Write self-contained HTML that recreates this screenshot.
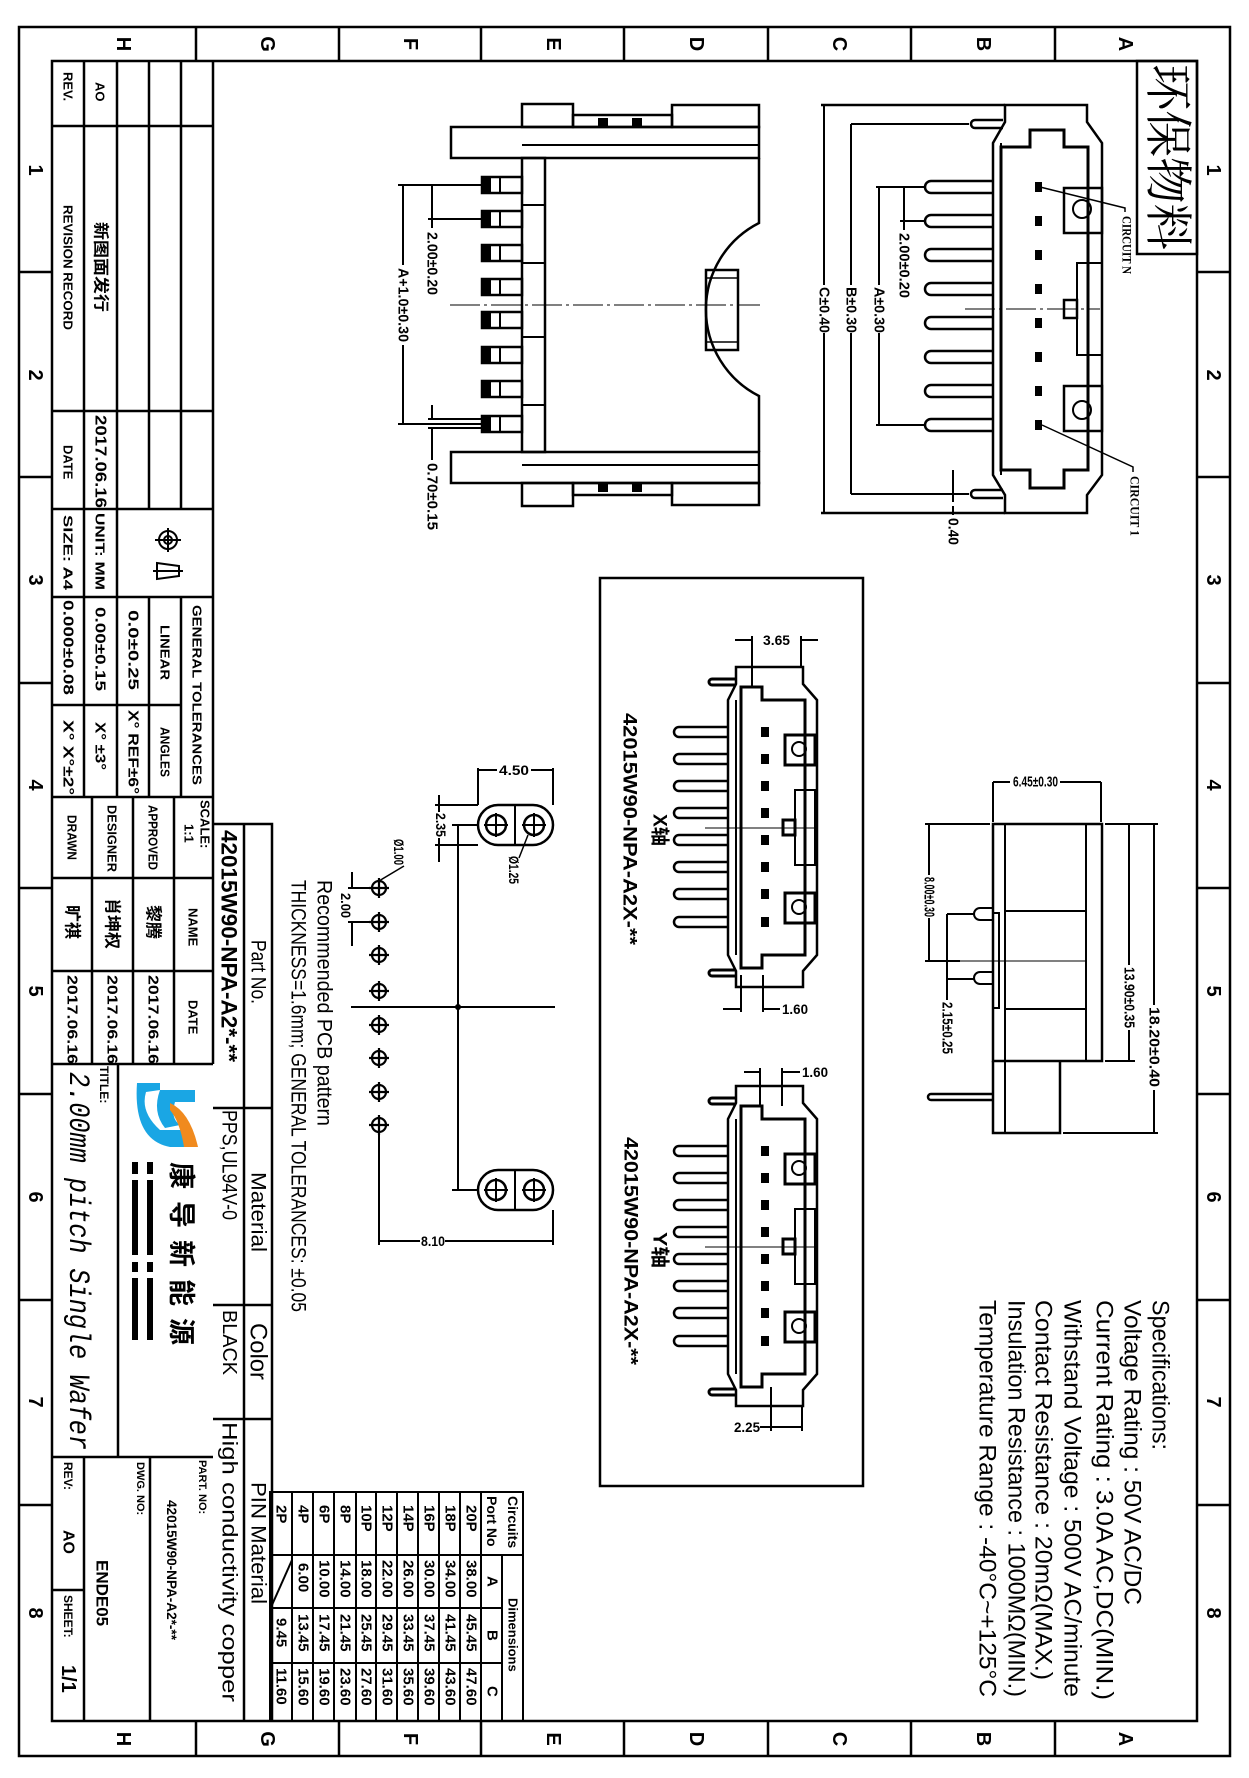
<!DOCTYPE html>
<html><head><meta charset="utf-8"><style>
html,body{margin:0;padding:0;background:#fff;}
svg{display:block;}
text{font-family:"Liberation Sans","Noto Sans CJK SC",sans-serif;fill:#000;}
.sf{font-family:"Liberation Serif","Noto Serif CJK SC",serif;}
.mo{font-family:"Liberation Mono","Noto Sans CJK SC",monospace;}
</style></head><body>
<svg width="1249" height="1778" viewBox="0 0 1249 1778" xmlns="http://www.w3.org/2000/svg">
<defs>
<g id="lp"><rect x="482" y="-8" width="40" height="16" fill="none" stroke="#000" stroke-width="2.5"/><rect x="482" y="-8" width="9" height="16" fill="#000"/><line x1="500" y1="-8" x2="500" y2="8" stroke="#000" stroke-width="2"/></g>
<g id="rp"><path d="M993,-6 H931 A6 6 0 0 0 931,6 H993" fill="none" stroke="#000" stroke-width="2.5"/><rect x="1035" y="-5" width="7" height="10" fill="#000"/></g>
<g id="xp"><path d="M728,-5 H679 A5 5 0 0 0 679,5 H728" fill="none" stroke="#000" stroke-width="2.5"/><rect x="762" y="-4" width="6" height="8" fill="#000"/></g>
<g id="conn" fill="none" stroke="#000" stroke-width="2">
<polygon points="736,667 803,667 803,684 817,700 817,955 803,971 803,987 736,987 736,971 728,955 728,700 736,684" stroke-width="2.5"/>
<polygon points="741,687 762,687 762,700 805,700 805,955 762,955 762,968 741,968" stroke-width="3"/>
<line x1="736" y1="700" x2="736" y2="955"/>
<rect x="785" y="735" width="30" height="30" stroke-width="3"/><circle cx="799" cy="749" r="7"/>
<rect x="785" y="893" width="30" height="30" stroke-width="3"/><circle cx="799" cy="907" r="7"/>
<rect x="795" y="790" width="20" height="75"/><rect x="783" y="820" width="12" height="15" stroke-width="3"/>
<path d="M736,679 H712 A3 3 0 0 0 712,685 H736 M736,970 H712 A3 3 0 0 0 712,976 H736" stroke-width="3"/>
<line x1="705" y1="828" x2="815" y2="828" stroke-width="1"/>
<use href="#xp" y="732"/><use href="#xp" y="759"/><use href="#xp" y="786"/><use href="#xp" y="813"/>
<use href="#xp" y="840"/><use href="#xp" y="867"/><use href="#xp" y="894"/><use href="#xp" y="922"/>
</g>
</defs>

<g fill="none" stroke="#000" stroke-width="2.5">
<rect x="19" y="27" width="1211" height="1729"/>
<rect x="52" y="61" width="1145" height="1660"/>
<path d="M196,27V61M339,27V61M481,27V61M624,27V61M768,27V61M911,27V61M1055,27V61"/>
<path d="M196,1721V1756M339,1721V1756M481,1721V1756M624,1721V1756M768,1721V1756M911,1721V1756M1055,1721V1756"/>
<path d="M19,272H52M19,477H52M19,683H52M19,888H52M19,1094H52M19,1300H52M19,1505H52"/>
<path d="M1197,272H1230M1197,477H1230M1197,683H1230M1197,888H1230M1197,1094H1230M1197,1300H1230M1197,1505H1230"/>
</g>
<g font-size="20" font-weight="bold" text-anchor="middle" dominant-baseline="central">
<text transform="translate(123,44) rotate(90)">H</text><text transform="translate(267,44) rotate(90)">G</text>
<text transform="translate(410,44) rotate(90)">F</text><text transform="translate(553,44) rotate(90)">E</text>
<text transform="translate(696,44) rotate(90)">D</text><text transform="translate(839,44) rotate(90)">C</text>
<text transform="translate(983,44) rotate(90)">B</text><text transform="translate(1125,44) rotate(90)">A</text>
<text transform="translate(123,1739) rotate(90)">H</text><text transform="translate(267,1739) rotate(90)">G</text>
<text transform="translate(410,1739) rotate(90)">F</text><text transform="translate(553,1739) rotate(90)">E</text>
<text transform="translate(696,1739) rotate(90)">D</text><text transform="translate(839,1739) rotate(90)">C</text>
<text transform="translate(983,1739) rotate(90)">B</text><text transform="translate(1125,1739) rotate(90)">A</text>
<text transform="translate(35,170) rotate(90)">1</text><text transform="translate(35,375) rotate(90)">2</text>
<text transform="translate(35,580) rotate(90)">3</text><text transform="translate(35,785) rotate(90)">4</text>
<text transform="translate(35,991) rotate(90)">5</text><text transform="translate(35,1197) rotate(90)">6</text>
<text transform="translate(35,1402) rotate(90)">7</text><text transform="translate(35,1613) rotate(90)">8</text>
<text transform="translate(1213,170) rotate(90)">1</text><text transform="translate(1213,375) rotate(90)">2</text>
<text transform="translate(1213,580) rotate(90)">3</text><text transform="translate(1213,785) rotate(90)">4</text>
<text transform="translate(1213,991) rotate(90)">5</text><text transform="translate(1213,1197) rotate(90)">6</text>
<text transform="translate(1213,1402) rotate(90)">7</text><text transform="translate(1213,1613) rotate(90)">8</text>
</g>

<g fill="none" stroke="#000" stroke-width="2.5">
<path d="M84,61V797M117,61V797M149,61V509M181,61V509M149,597V797M181,597V797M213,61V1064"/>
<path d="M52,126H213M52,411H213M52,509H213M52,597H213M52,797H213M52,705H181M52,1064H213"/>
<path d="M92,797V1064M133,797V1064M174,797V1064M52,878H213M52,971H213"/>
<path d="M213,824H272V1721M244,824V1721M213,1108H272M213,1305H272M213,1419H272"/>
<path d="M118,1064V1457M52,1457H213M84,1457V1721M150,1457V1721M52,1590H84"/>
</g>
<g fill="none" stroke="#000" stroke-width="2">
<circle cx="168" cy="540" r="9"/><circle cx="168" cy="540" r="4"/><path d="M155,540H181M168,528V552"/>
<path d="M157,563 L179,566 L179,576 L157,579 Z M153,571H183"/>
</g>
<g class="sf" font-size="13" font-weight="bold" dominant-baseline="central">
<text transform="translate(68,72) rotate(90)">REV.</text>
<text transform="translate(100,82) rotate(90)">AO</text>
<text transform="translate(68,205) rotate(90)" textLength="125" lengthAdjust="spacingAndGlyphs">REVISION RECORD</text>
<text transform="translate(100,222) rotate(90)" font-size="16" textLength="90" lengthAdjust="spacingAndGlyphs">新图面发行</text>
<text transform="translate(68,445) rotate(90)">DATE</text>
<text transform="translate(100,415) rotate(90)" font-size="16" textLength="93" lengthAdjust="spacingAndGlyphs">2017.06.16</text>
<text transform="translate(68,515) rotate(90)" textLength="75" lengthAdjust="spacingAndGlyphs">SIZE: A4</text>
<text transform="translate(100,513) rotate(90)" textLength="77" lengthAdjust="spacingAndGlyphs">UNIT: MM</text>
<text transform="translate(197,605) rotate(90)" textLength="180" lengthAdjust="spacingAndGlyphs">GENERAL TOLERANCES</text>
<text transform="translate(165,625) rotate(90)" textLength="55" lengthAdjust="spacingAndGlyphs">LINEAR</text>
<text transform="translate(165,727) rotate(90)" textLength="50" lengthAdjust="spacingAndGlyphs">ANGLES</text>
<text transform="translate(133,610) rotate(90)" font-size="15" textLength="80" lengthAdjust="spacingAndGlyphs">0.0±0.25</text>
<text transform="translate(133,710) rotate(90)" font-size="15" textLength="84" lengthAdjust="spacingAndGlyphs">X° REF±6°</text>
<text transform="translate(100,607) rotate(90)" font-size="15" textLength="84" lengthAdjust="spacingAndGlyphs">0.00±0.15</text>
<text transform="translate(100,722) rotate(90)" font-size="15" textLength="48" lengthAdjust="spacingAndGlyphs">X° ±3°</text>
<text transform="translate(68,600) rotate(90)" font-size="15" textLength="95" lengthAdjust="spacingAndGlyphs">0.000±0.08</text>
<text transform="translate(68,720) rotate(90)" font-size="15" textLength="75" lengthAdjust="spacingAndGlyphs">X° X°±2°</text>
<text transform="translate(205,800) rotate(90)">SCALE:</text>
<text transform="translate(189,824) rotate(90)">1:1</text>
<text transform="translate(153,805) rotate(90)" textLength="65" lengthAdjust="spacingAndGlyphs">APPROVED</text>
<text transform="translate(112,805) rotate(90)" textLength="67" lengthAdjust="spacingAndGlyphs">DESIGNER</text>
<text transform="translate(72,815) rotate(90)" textLength="45" lengthAdjust="spacingAndGlyphs">DRAWN</text>
<text transform="translate(193,908) rotate(90)">NAME</text>
<text transform="translate(153,905) rotate(90)" font-size="17">黎腾</text>
<text transform="translate(112,898) rotate(90)" font-size="17">肖坤权</text>
<text transform="translate(72,905) rotate(90)" font-size="17">旷祺</text>
<text transform="translate(193,1000) rotate(90)">DATE</text>
<text transform="translate(153,975) rotate(90)" font-size="15" textLength="89" lengthAdjust="spacingAndGlyphs">2017.06.16</text>
<text transform="translate(112,975) rotate(90)" font-size="15" textLength="89" lengthAdjust="spacingAndGlyphs">2017.06.16</text>
<text transform="translate(72,975) rotate(90)" font-size="15" textLength="89" lengthAdjust="spacingAndGlyphs">2017.06.16</text>
<text transform="translate(104,1066) rotate(90)" font-size="12">TITLE:</text>
<text transform="translate(202,1460) rotate(90)" font-size="11">PART. NO:</text>
<text transform="translate(172,1500) rotate(90)" font-size="14" textLength="140" lengthAdjust="spacingAndGlyphs">42015W90-NPA-A2*-**</text>
<text transform="translate(140,1462) rotate(90)" font-size="11">DWG. NO:</text>
<text transform="translate(102,1560) rotate(90)" font-size="17">ENDE05</text>
<text transform="translate(68,1462) rotate(90)" font-size="12">REV:</text>
<text transform="translate(68,1530) rotate(90)" font-size="16">AO</text>
<text transform="translate(68,1595) rotate(90)" font-size="12">SHEET:</text>
<text transform="translate(68,1665) rotate(90)" font-size="20">1/1</text>
</g>
<text class="mo" transform="translate(77,1072) rotate(90)" font-size="30" font-style="italic" dominant-baseline="central" textLength="378" lengthAdjust="spacingAndGlyphs">2.00mm pitch Single Wafer</text>
<path d="M137,1083 L160,1083 L160,1090 L146,1092 Q140,1112 160,1130 L190,1130 L193,1147 L170,1147 Q133,1140 137,1083 Z" fill="#1aa6e4"/>
<path d="M160,1090 L195,1090 L195,1102 L175,1102 Q170,1118 180,1125 L165,1128 Q152,1112 160,1090 Z" fill="#1aa6e4"/>
<path d="M170,1103 Q190,1112 198,1147 L184,1147 Q180,1122 170,1110 Z" fill="#f08a1e"/>
<text transform="translate(181,1162) rotate(90)" font-size="27" font-weight="bold" dominant-baseline="central" textLength="183" lengthAdjust="spacing">康导新能源</text>
<g fill="#000">
<rect x="147" y="1162" width="6" height="12"/><rect x="147" y="1180" width="6" height="75"/><rect x="147" y="1262" width="6" height="10"/><rect x="147" y="1278" width="6" height="62"/>
<rect x="132" y="1162" width="6" height="12"/><rect x="132" y="1180" width="6" height="75"/><rect x="132" y="1262" width="6" height="10"/><rect x="132" y="1278" width="6" height="62"/>
</g>

<g dominant-baseline="central">
<text transform="translate(258,940) rotate(90)" font-size="21" textLength="64" lengthAdjust="spacingAndGlyphs">Part No.</text>
<text transform="translate(229,830) rotate(90)" font-size="22" font-weight="bold" textLength="232" lengthAdjust="spacingAndGlyphs">42015W90-NPA-A2*-**</text>
<text transform="translate(258,1172) rotate(90)" font-size="21" textLength="80" lengthAdjust="spacingAndGlyphs">Material</text>
<text transform="translate(229,1110) rotate(90)" font-size="21" textLength="110" lengthAdjust="spacingAndGlyphs">PPS,UL94V-0</text>
<text transform="translate(258,1323) rotate(90)" font-size="24" textLength="57" lengthAdjust="spacingAndGlyphs">Color</text>
<text transform="translate(229,1310) rotate(90)" font-size="20" textLength="65" lengthAdjust="spacingAndGlyphs">BLACK</text>
<text transform="translate(258,1482) rotate(90)" font-size="21" textLength="122" lengthAdjust="spacingAndGlyphs">PIN Material</text>
<text transform="translate(229,1422) rotate(90)" font-size="21" textLength="280" lengthAdjust="spacingAndGlyphs">High conductivity copper</text>
</g>

<g fill="none" stroke="#000" stroke-width="2">
<rect x="270" y="1492" width="253" height="229"/>
<path d="M292,1492V1721M313,1492V1721M334,1492V1721M356,1492V1721M376,1492V1721M397,1492V1721M418,1492V1721M439,1492V1721M460,1492V1721M481,1492V1721M502,1555V1721"/>
<path d="M270,1555H523M270,1608H502M270,1663H502"/>
<line x1="272" y1="1605" x2="292" y2="1560"/>
</g>
<g font-size="15" font-weight="bold" dominant-baseline="central">
<text transform="translate(513,1496) rotate(90)" font-size="14">Circuits</text>
<text transform="translate(492,1496) rotate(90)" font-size="14">Port No</text>
<text transform="translate(513,1598) rotate(90)" font-size="13">Dimensions</text>
<text transform="translate(492,1576) rotate(90)">A</text>
<text transform="translate(492,1630) rotate(90)">B</text>
<text transform="translate(492,1686) rotate(90)">C</text>
<text transform="translate(471,1505) rotate(90)">20P</text><text transform="translate(471,1560) rotate(90)">38.00</text><text transform="translate(471,1614) rotate(90)">45.45</text><text transform="translate(471,1668) rotate(90)">47.60</text>
<text transform="translate(450,1505) rotate(90)">18P</text><text transform="translate(450,1560) rotate(90)">34.00</text><text transform="translate(450,1614) rotate(90)">41.45</text><text transform="translate(450,1668) rotate(90)">43.60</text>
<text transform="translate(429,1505) rotate(90)">16P</text><text transform="translate(429,1560) rotate(90)">30.00</text><text transform="translate(429,1614) rotate(90)">37.45</text><text transform="translate(429,1668) rotate(90)">39.60</text>
<text transform="translate(408,1505) rotate(90)">14P</text><text transform="translate(408,1560) rotate(90)">26.00</text><text transform="translate(408,1614) rotate(90)">33.45</text><text transform="translate(408,1668) rotate(90)">35.60</text>
<text transform="translate(387,1505) rotate(90)">12P</text><text transform="translate(387,1560) rotate(90)">22.00</text><text transform="translate(387,1614) rotate(90)">29.45</text><text transform="translate(387,1668) rotate(90)">31.60</text>
<text transform="translate(366,1505) rotate(90)">10P</text><text transform="translate(366,1560) rotate(90)">18.00</text><text transform="translate(366,1614) rotate(90)">25.45</text><text transform="translate(366,1668) rotate(90)">27.60</text>
<text transform="translate(345,1505) rotate(90)">8P</text><text transform="translate(345,1560) rotate(90)">14.00</text><text transform="translate(345,1614) rotate(90)">21.45</text><text transform="translate(345,1668) rotate(90)">23.60</text>
<text transform="translate(324,1505) rotate(90)">6P</text><text transform="translate(324,1560) rotate(90)">10.00</text><text transform="translate(324,1614) rotate(90)">17.45</text><text transform="translate(324,1668) rotate(90)">19.60</text>
<text transform="translate(303,1505) rotate(90)">4P</text><text transform="translate(303,1563) rotate(90)">6.00</text><text transform="translate(303,1614) rotate(90)">13.45</text><text transform="translate(303,1668) rotate(90)">15.60</text>
<text transform="translate(281,1505) rotate(90)">2P</text><text transform="translate(281,1618) rotate(90)">9.45</text><text transform="translate(281,1668) rotate(90)">11.60</text>
</g>

<g fill="none" stroke="#000" stroke-width="2.5">
<rect x="451" y="127" width="308" height="31"/>
<line x1="522" y1="145" x2="759" y2="145" stroke-width="2"/>
<rect x="522" y="104" width="51" height="23"/><rect x="672" y="105" width="87" height="22"/><rect x="573" y="115" width="99" height="12"/>
<rect x="451" y="452" width="308" height="31"/>
<line x1="522" y1="465" x2="759" y2="465" stroke-width="2"/>
<rect x="522" y="483" width="51" height="23"/><rect x="672" y="483" width="87" height="22"/><rect x="573" y="483" width="99" height="12"/>
<rect x="522" y="158" width="23" height="294"/>
<path d="M759,158 V223 A97 97 0 0 0 759,396 V452"/>
<rect x="706" y="270" width="32" height="80"/>
<path d="M706,278H738M706,342H738" stroke-width="1.5"/>
<path d="M522,205H545M522,263H545M522,337H545M522,405H545" stroke-width="2"/>
</g>
<g fill="#000"><rect x="598" y="118" width="10" height="8"/><rect x="632" y="118" width="10" height="8"/><rect x="598" y="484" width="10" height="8"/><rect x="632" y="484" width="10" height="8"/></g>
<line x1="450" y1="305" x2="760" y2="305" stroke="#000" stroke-width="1" stroke-dasharray="30 4 3 4"/>
<use href="#lp" y="185"/><use href="#lp" y="219"/><use href="#lp" y="253"/><use href="#lp" y="287"/>
<use href="#lp" y="320"/><use href="#lp" y="355"/><use href="#lp" y="389"/><use href="#lp" y="424"/>
<g fill="none" stroke="#000" stroke-width="2">
<path d="M398,185H482M398,424H482M428,219H482M428,419H482M428,428H482"/>
<path d="M403,185V265M403,345V424"/>
<path d="M432,185V219M432,219V228M432,405V419M432,428V460"/>
</g>
<g font-size="15" font-weight="bold" dominant-baseline="central">
<text transform="translate(432,232) rotate(90)" textLength="63" lengthAdjust="spacingAndGlyphs">2.00±0.20</text>
<text transform="translate(403,268) rotate(90)" textLength="74" lengthAdjust="spacingAndGlyphs">A+1.0±0.30</text>
<text transform="translate(432,463) rotate(90)" textLength="67" lengthAdjust="spacingAndGlyphs">0.70±0.15</text>
</g>

<g fill="none" stroke="#000" stroke-width="2.5">
<path d="M821,105H1005M821,513H1005"/>
<polygon points="1005,105 1087,105 1087,122 1102,143 1102,475 1087,495 1087,513 1005,513 1005,495 993,475 993,143 1005,122"/>
<path d="M1001,143V475" stroke-width="2"/>
<polygon points="1001,147 1030,147 1030,130 1064,130 1064,147 1088,147 1088,470 1064,470 1064,488 1030,488 1030,470 1001,470" stroke-width="3"/>
<rect x="1064" y="188" width="38" height="45"/><rect x="1064" y="386" width="38" height="45"/>
<circle cx="1082" cy="209" r="9" stroke-width="2"/><circle cx="1082" cy="410" r="9" stroke-width="2"/>
<rect x="1077" y="263" width="25" height="92" stroke-width="2"/><rect x="1064" y="300" width="13" height="18"/>
<path d="M1003,120H975 A4 4 0 0 0 975,128 H1003 M1003,490H975 A4 4 0 0 0 975,498 H1003"/>
</g>
<line x1="965" y1="309" x2="1100" y2="309" stroke="#000" stroke-width="1" stroke-dasharray="30 4 3 4"/>
<use href="#rp" y="187"/><use href="#rp" y="221"/><use href="#rp" y="255"/><use href="#rp" y="289"/>
<use href="#rp" y="323"/><use href="#rp" y="357"/><use href="#rp" y="391"/><use href="#rp" y="425"/>
<g fill="none" stroke="#000" stroke-width="2">
<path d="M876,187H925M876,425H925M900,221H925"/>
<path d="M824,105V285M824,333V513M851,124V285M851,333V494M851,124H969M851,494H969"/>
<path d="M879,187V285M879,333V425M904,187V230"/>
<path d="M953,470V502M953,506V515"/>
<path d="M1040,187L1125,208V212M1042,425L1133,467V472" stroke-width="1.5"/>
</g>
<g font-size="15" font-weight="bold" dominant-baseline="central">
<text transform="translate(904,233) rotate(90)" textLength="65" lengthAdjust="spacingAndGlyphs">2.00±0.20</text>
<text transform="translate(879,287) rotate(90)" textLength="46" lengthAdjust="spacingAndGlyphs">A±0.30</text>
<text transform="translate(851,287) rotate(90)" textLength="46" lengthAdjust="spacingAndGlyphs">B±0.30</text>
<text transform="translate(824,287) rotate(90)" textLength="46" lengthAdjust="spacingAndGlyphs">C±0.40</text>
<text transform="translate(953,518) rotate(90)" textLength="27" lengthAdjust="spacingAndGlyphs">0.40</text>
<text class="sf" transform="translate(1127,216) rotate(90)" font-size="13" textLength="58" lengthAdjust="spacingAndGlyphs">CIRCUIT N</text>
<text class="sf" transform="translate(1135,476) rotate(90)" font-size="13" textLength="60" lengthAdjust="spacingAndGlyphs">CIRCUIT 1</text>
</g>
<rect x="1137" y="61" width="60" height="193" fill="none" stroke="#000" stroke-width="2.5"/>
<text class="sf" transform="translate(1167,64) rotate(90)" font-size="48" dominant-baseline="central" textLength="186" lengthAdjust="spacingAndGlyphs">环保物料</text>

<rect x="600" y="578" width="263" height="908" fill="none" stroke="#000" stroke-width="2.5"/>
<use href="#conn"/>
<g transform="translate(0,419)"><use href="#conn"/></g>
<g fill="none" stroke="#000" stroke-width="2">
<path d="M752,636V687M801,636V667M735,640H752M801,640H818"/>
<path d="M741,975V1012M763,975V1012M723,1009H741M763,1009H780"/>
<path d="M760,1068V1106M782,1068V1106M744,1072H760M782,1072H800"/>
<path d="M771,1387V1431M802,1406V1431M760,1427H771M771,1427H802"/>
</g>
<g font-size="14" font-weight="bold" dominant-baseline="central">
<text x="763" y="640" textLength="27" lengthAdjust="spacingAndGlyphs">3.65</text>
<text x="782" y="1009" textLength="26" lengthAdjust="spacingAndGlyphs">1.60</text>
<text x="802" y="1072" textLength="26" lengthAdjust="spacingAndGlyphs">1.60</text>
<text x="734" y="1427" textLength="26" lengthAdjust="spacingAndGlyphs">2.25</text>
</g>
<g class="sf" font-size="19" font-weight="bold" dominant-baseline="central">
<text transform="translate(629,713) rotate(90)" textLength="232" lengthAdjust="spacingAndGlyphs">42015W90-NPA-A2X-**</text>
<text transform="translate(659,814) rotate(90)" textLength="32" lengthAdjust="spacingAndGlyphs">X轴</text>
<text transform="translate(630,1137) rotate(90)" textLength="228" lengthAdjust="spacingAndGlyphs">42015W90-NPA-A2X-**</text>
<text transform="translate(659,1232) rotate(90)" textLength="36" lengthAdjust="spacingAndGlyphs">Y轴</text>
</g>

<g fill="none" stroke="#000" stroke-width="2.5">
<rect x="993" y="824" width="109" height="237"/>
<path d="M993,1061V1133H1060V1061"/>
<path d="M1005,824V1133M1086,824V1061M1005,911H1086M1005,1009H1086" stroke-width="2"/>
<rect x="993" y="913" width="6" height="95" stroke-width="2"/>
<path d="M993,908H980 A6 6 0 0 0 980,920 H993 M993,972H980 A6 6 0 0 0 980,984 H993" stroke-width="2"/>
<path d="M993,1094H931 A3 3 0 0 0 931,1100 H993"/>
</g>
<line x1="929" y1="961" x2="1086" y2="961" stroke="#000" stroke-width="1"/>
<g fill="none" stroke="#000" stroke-width="2">
<path d="M993,782V822M1101,782V822M993,782H1010M1060,782H1101"/>
<path d="M925,824H990M929,824V875M929,918V961M925,961H960"/>
<path d="M947,914H975M947,979H975M947,914V1000"/>
<path d="M1105,824H1158M1129,824V965M1129,1030V1061M1105,1061H1135M1154,824V1005M1154,1090V1133M1063,1133H1158"/>
</g>
<g font-size="15" font-weight="bold" dominant-baseline="central">
<text x="1013" y="782" textLength="45" lengthAdjust="spacingAndGlyphs">6.45±0.30</text>
<text transform="translate(929,877) rotate(90)" textLength="40" lengthAdjust="spacingAndGlyphs">8.00±0.30</text>
<text transform="translate(947,1002) rotate(90)" textLength="52" lengthAdjust="spacingAndGlyphs">2.15±0.25</text>
<text transform="translate(1129,967) rotate(90)" textLength="61" lengthAdjust="spacingAndGlyphs">13.90±0.35</text>
<text transform="translate(1154,1007) rotate(90)" textLength="80" lengthAdjust="spacingAndGlyphs">18.20±0.40</text>
</g>

<g font-size="24" dominant-baseline="central">
<text transform="translate(1160,1300) rotate(90)" textLength="150" lengthAdjust="spacingAndGlyphs">Specifications:</text>
<text transform="translate(1132,1300) rotate(90)" textLength="305" lengthAdjust="spacingAndGlyphs">Voltage Rating : 50V AC/DC</text>
<text transform="translate(1104,1300) rotate(90)" textLength="400" lengthAdjust="spacingAndGlyphs">Current Rating : 3.0A AC,DC(MIN.)</text>
<text transform="translate(1072,1300) rotate(90)" textLength="397" lengthAdjust="spacingAndGlyphs">Withstand Voltage : 500V AC/minute</text>
<text transform="translate(1043,1300) rotate(90)" textLength="380" lengthAdjust="spacingAndGlyphs">Contact Resistance : 20mΩ(MAX.)</text>
<text transform="translate(1016,1300) rotate(90)" textLength="397" lengthAdjust="spacingAndGlyphs">Insulation Resistance : 1000MΩ(MIN.)</text>
<text transform="translate(987,1300) rotate(90)" textLength="397" lengthAdjust="spacingAndGlyphs">Temperature Range : -40°C~+125°C</text>
</g>

<g fill="none" stroke="#000" stroke-width="2.5">
<rect x="478" y="805" width="75" height="40" rx="20"/>
<rect x="478" y="1170" width="75" height="40" rx="20"/>
<circle cx="496" cy="825" r="10"/><circle cx="534" cy="825" r="10"/>
<circle cx="496" cy="1190" r="10"/><circle cx="534" cy="1190" r="10"/>
<path d="M515,805V845M515,1170V1210M484,825H508M522,825H546M496,813V837M534,813V837M484,1190H508M522,1190H546M496,1178V1202M534,1178V1202" stroke-width="2"/>
<g stroke-width="2.2">
<circle cx="379" cy="888" r="7"/><circle cx="379" cy="922" r="7"/><circle cx="379" cy="955" r="7"/><circle cx="379" cy="991" r="7"/>
<circle cx="379" cy="1025" r="7"/><circle cx="379" cy="1058" r="7"/><circle cx="379" cy="1092" r="7"/><circle cx="379" cy="1125" r="7"/>
<path d="M369,888H389M379,878V898M369,922H389M379,912V932M369,955H389M379,945V965M369,991H389M379,981V1001M369,1025H389M379,1015V1035M369,1058H389M379,1048V1068M369,1092H389M379,1082V1102M369,1125H389M379,1115V1135"/>
</g>
</g>
<g fill="none" stroke="#000" stroke-width="2">
<path d="M458,825V1190M452,825H478M452,1190H478M351,1007H555"/>
<path d="M379,1135V1245M553,1210V1245M379,1241H420M445,1241H553"/>
<path d="M478,768V805M553,768V805M478,770H497M531,770H553"/>
<path d="M435,805H478M435,845H478M439,795V812M439,838V862"/>
<path d="M348,888H372M348,922H372M352,872V888M352,922V946"/>
<path d="M379,881L404,866M528,835L519,858" stroke-width="1.5"/>
</g>
<circle cx="458" cy="1007" r="3" fill="#000"/>
<g font-size="14" font-weight="bold" dominant-baseline="central">
<text x="499" y="770" textLength="30" lengthAdjust="spacingAndGlyphs">4.50</text>
<text x="421" y="1241" textLength="24" lengthAdjust="spacingAndGlyphs">8.10</text>
<text transform="translate(441,813) rotate(90)" textLength="24" lengthAdjust="spacingAndGlyphs">2.35</text>
<text transform="translate(346,893) rotate(90)" textLength="25" lengthAdjust="spacingAndGlyphs">2.00</text>
<text transform="translate(399,839) rotate(90)" textLength="26" lengthAdjust="spacingAndGlyphs">Ø1.00</text>
<text transform="translate(514,856) rotate(90)" textLength="28" lengthAdjust="spacingAndGlyphs">Ø1.25</text>
</g>
<g class="mo" font-size="21" dominant-baseline="central">
<text transform="translate(324,880) rotate(90)" textLength="246" lengthAdjust="spacingAndGlyphs">Recommended PCB pattern</text>
<text transform="translate(298,880) rotate(90)" textLength="432" lengthAdjust="spacingAndGlyphs">THICKNESS=1.6mm; GENERAL TOLERANCES: ±0.05</text>
</g>
</svg>
</body></html>
